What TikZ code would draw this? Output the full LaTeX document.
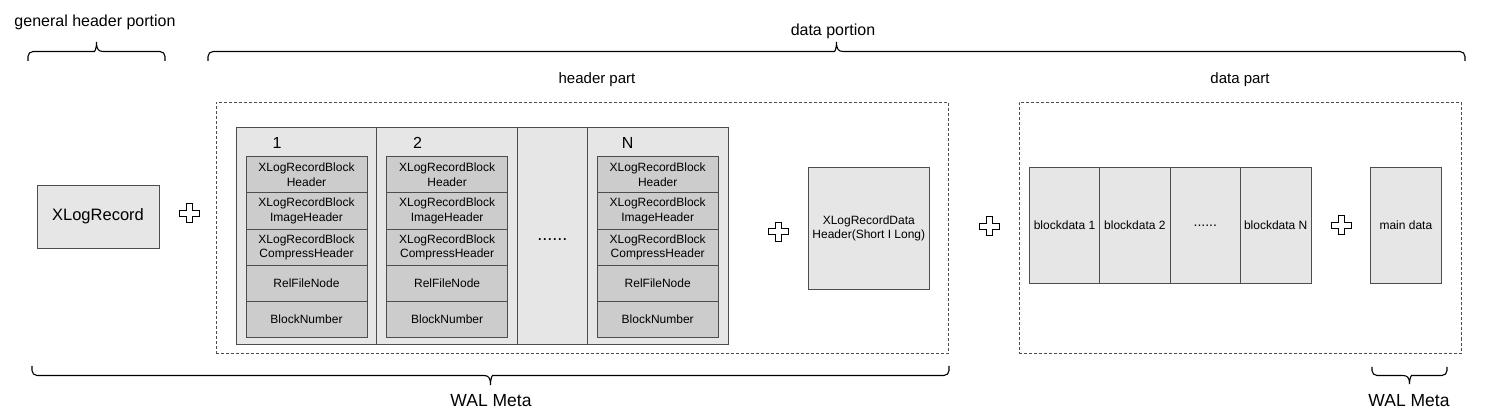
\documentclass[tikz,border=0pt]{standalone}
\usepackage{fontspec}
\setmainfont{Liberation Sans}
\usetikzlibrary{positioning, calc}

\definecolor{boxfill}{HTML}{E6E6E6}
\definecolor{cellfill}{HTML}{CCCCCC}
\definecolor{linec}{HTML}{4D4D4D}

\newcommand{\fsmall}{\fontsize{12pt}{14.3pt}\selectfont}
\newcommand{\fbig}{\fontsize{16pt}{19pt}\selectfont}
\newcommand{\fwal}{\fontsize{17.5pt}{21pt}\selectfont}

\begin{document}
\begin{tikzpicture}[x=1pt, y=-1pt,
	box/.style={draw=linec, fill=boxfill, line width=0.8pt, outer sep=0pt, inner sep=0pt, align=center, font=\fsmall},
	cell/.style={box, fill=cellfill, minimum width=121pt, minimum height=36.2pt},
	col/.style={box, minimum width=140.6pt, minimum height=216.5pt},
	bdata/.style={box, minimum width=70.4pt, minimum height=116.4pt},
	part/.style={draw=linec, line width=0.8pt, dash pattern=on 3pt off 2pt, minimum height=251pt, anchor=north west, outer sep=0pt},
	lbl/.style={font=\fbig, inner sep=0pt},
	wbrace/.style={line width=1.1pt, to path={
		let \p1=(\tikztostart), \p2=(\tikztotarget), \n1={ifthenelse(\x2>\x1,1,-1)}, \n2={(\x1+\x2)/2} in
		[rounded corners=5pt] -- (\x1,{\y1+\n1*#1/2}) -- ({(\n2-7*\n1)*1pt},{\y1+\n1*#1/2}) [sharp corners]
		.. controls ({(\n2-2*\n1)*1pt},{\y1+\n1*#1/2}) and ({\n2*1pt},{\y1+\n1*(#1/2+2pt)}) .. ({\n2*1pt},{\y1+\n1*#1})
		.. controls ({\n2*1pt},{\y1+\n1*(#1/2+2pt)}) and ({(\n2+2*\n1)*1pt},{\y1+\n1*#1/2}) .. ({(\n2+7*\n1)*1pt},{\y1+\n1*#1/2})
		[rounded corners=5pt] -- (\x2,{\y1+\n1*#1/2}) -- (\tikztotarget)}},
	addsign/.pic={\draw[black, fill=white, line width=0.8pt] (-3,-9.5) -- (3,-9.5) -- (3,-3) -- (10,-3) -- (10,3) -- (3,3) -- (3,9.5) -- (-3,9.5) -- (-3,3) -- (-10,3) -- (-10,-3) -- (-3,-3) -- cycle;}
]
	\useasboundingbox (0,0) rectangle (1504,419);

	% top braces
	\node[lbl] (gh) at (95,22) {general header portion};
	\node[lbl] (dp) at (833,31) {data portion};
	\coordinate (ghL) at (28,61);
	\coordinate (ghR) at (165,61);
	\coordinate (dpL) at (208,61);
	\coordinate (dpR) at (1465,61);
	\draw[wbrace=19pt] (ghL) to (ghR);
	\draw[wbrace=19pt] (dpL) to (dpR);

	% general header
	\node[box, font=\fontsize{16.5pt}{19pt}\selectfont, minimum width=122pt, minimum height=63pt, anchor=north west] (rec) at (37,185) {XLogRecord};
	\pic (p1) at (189,213) {addsign};

	% header part
	\node[part, minimum width=732.5pt] (hp) at (216,102.5) {};
	\node[lbl, font=\fontsize{15pt}{18pt}\selectfont] (hpl) at (597,80) {header part};

	\node[col, anchor=north west] (c1)     at (236,127.5) {};
	\node[col]                    (c2)     [right=0pt of c1] {};
	\node[col, minimum width=70.4pt] (c3)  [right=0pt of c2] {};
	\node[col]                    (c4)     [right=0pt of c3] {};

	\node[lbl] (n1) at ([shift={(41,15.5)}]c1.north west) {1};
	\node[lbl] (n2) at ([shift={(41,15.5)}]c2.north west) {2};
	\node[lbl] (n4) at ([shift={(40,15.5)}]c4.north west) {N};
	\node[lbl, font=\fontsize{18pt}{20pt}\selectfont] (dots) at ([yshift=-4pt]c3.center) {......};

	\node[cell, anchor=north west] (a1) at ([shift={(10,29.2)}]c1.north west) {XLogRecordBlock\\Header};
	\node[cell] (a2) [below=0pt of a1] {XLogRecordBlock\\ImageHeader};
	\node[cell] (a3) [below=0pt of a2] {XLogRecordBlock\\CompressHeader};
	\node[cell] (a4) [below=0pt of a3] {RelFileNode};
	\node[cell] (a5) [below=0pt of a4] {BlockNumber};

	\node[cell, anchor=north west] (b1) at ([shift={(10,29.2)}]c2.north west) {XLogRecordBlock\\Header};
	\node[cell] (b2) [below=0pt of b1] {XLogRecordBlock\\ImageHeader};
	\node[cell] (b3) [below=0pt of b2] {XLogRecordBlock\\CompressHeader};
	\node[cell] (b4) [below=0pt of b3] {RelFileNode};
	\node[cell] (b5) [below=0pt of b4] {BlockNumber};

	\node[cell, anchor=north west] (d1) at ([shift={(9.6,29.2)}]c4.north west) {XLogRecordBlock\\Header};
	\node[cell] (d2) [below=0pt of d1] {XLogRecordBlock\\ImageHeader};
	\node[cell] (d3) [below=0pt of d2] {XLogRecordBlock\\CompressHeader};
	\node[cell] (d4) [below=0pt of d3] {RelFileNode};
	\node[cell] (d5) [below=0pt of d4] {BlockNumber};

	\pic (p2) at (778,231.5) {addsign};
	\node[box, minimum width=121pt, minimum height=121.3pt, anchor=north west] (dh) at (808.3,167.7) {XLogRecordData\\Header(Short I Long)};

	% data part
	\pic (p3) at (989.5,226) {addsign};
	\node[part, minimum width=442pt] (dat) at (1019.3,102.5) {};
	\node[lbl, font=\fontsize{15pt}{18pt}\selectfont] (datl) at (1240,80) {data part};

	\node[bdata, anchor=north west] (e1) at (1029.3,167.3) {blockdata 1};
	\node[bdata] (e2) [right=0pt of e1] {blockdata 2};
	\node[bdata] (e3) [right=0pt of e2] {\fontsize{14pt}{16pt}\selectfont ......};
	\node[bdata] (e4) [right=0pt of e3] {blockdata N};
	\pic (p4) at (1341,225) {addsign};
	\node[bdata, anchor=north west] (md) at (1370.7,167.3) {main data};

	% bottom braces
	\coordinate (wmR) at (949,366);
	\coordinate (wmL) at (32,366);
	\coordinate (wm2R) at (1447,367);
	\coordinate (wm2L) at (1372,367);
	\draw[wbrace=19pt] (wmR) to (wmL);
	\draw[wbrace=17pt] (wm2R) to (wm2L);
	\node[lbl, font=\fwal] (wm) at (491,401) {WAL Meta};
	\node[lbl, font=\fwal] (wm2) at (1409,401) {WAL Meta};
\end{tikzpicture}
\end{document}
